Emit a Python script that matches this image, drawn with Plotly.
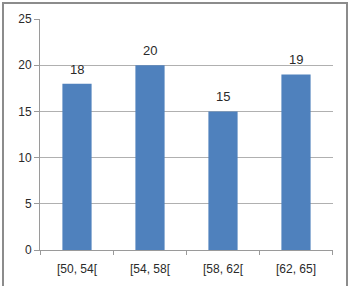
import plotly.graph_objects as go

categories = ["[50, 54[", "[54, 58[", "[58, 62[", "[62, 65]"]
values = [18, 20, 15, 19]
y_ticks = [0, 5, 10, 15, 20, 25]

W, H = 352, 286
L, R, T, B = 40, 19, 19, 36
pw, ph = W - L - R, H - T - B

def px_x(p):
    return (p - L) / pw

def px_y(p):
    return (H - B - p) / ph

fig = go.Figure(go.Bar(
    x=categories, y=values,
    marker=dict(color="#4F81BD", line=dict(width=0)),
))

for c, v in zip(categories, values):
    fig.add_annotation(x=c, y=v, text=str(v), showarrow=False,
                       yanchor="bottom", yshift=5,
                       font=dict(family="Liberation Sans, Arial", size=13, color="#2a2a2a"))

fig.update_layout(
    width=W, height=H,
    margin=dict(l=L, r=R, t=T, b=B, autoexpand=False),
    paper_bgcolor="white", plot_bgcolor="white",
    bargap=0.6,
    showlegend=False,
    font=dict(family="Liberation Sans, Arial", size=12, color="#2a2a2a"),
    xaxis=dict(
        showgrid=False, showline=True, linecolor="#9a9a9a", linewidth=1,
        ticks="", tickfont=dict(size=12), ticklabelstandoff=8,
        automargin=False, fixedrange=True,
    ),
    yaxis=dict(
        range=[0, 25], tickvals=y_ticks, showgrid=True, gridcolor="#b0b0b0",
        gridwidth=1, showline=True, linecolor="#9a9a9a", linewidth=1,
        ticks="outside", ticklen=5, tickcolor="#9a9a9a",
        tickfont=dict(size=12), zeroline=False, automargin=False,
        fixedrange=True,
    ),
)

# x-axis tick marks at category boundaries (Excel style)
for i in range(len(categories) + 1):
    fig.add_shape(type="line", xref="x", yref="paper",
                  x0=i - 0.5, x1=i - 0.5, y0=0, y1=-5 / ph,
                  line=dict(color="#9a9a9a", width=1))

# outer chart border
fig.add_shape(type="rect", xref="paper", yref="paper",
              x0=px_x(3), x1=px_x(347), y0=px_y(300), y1=px_y(3),
              line=dict(color="#8c8c8c", width=2), layer="below")

fig.write_html("out.html")
